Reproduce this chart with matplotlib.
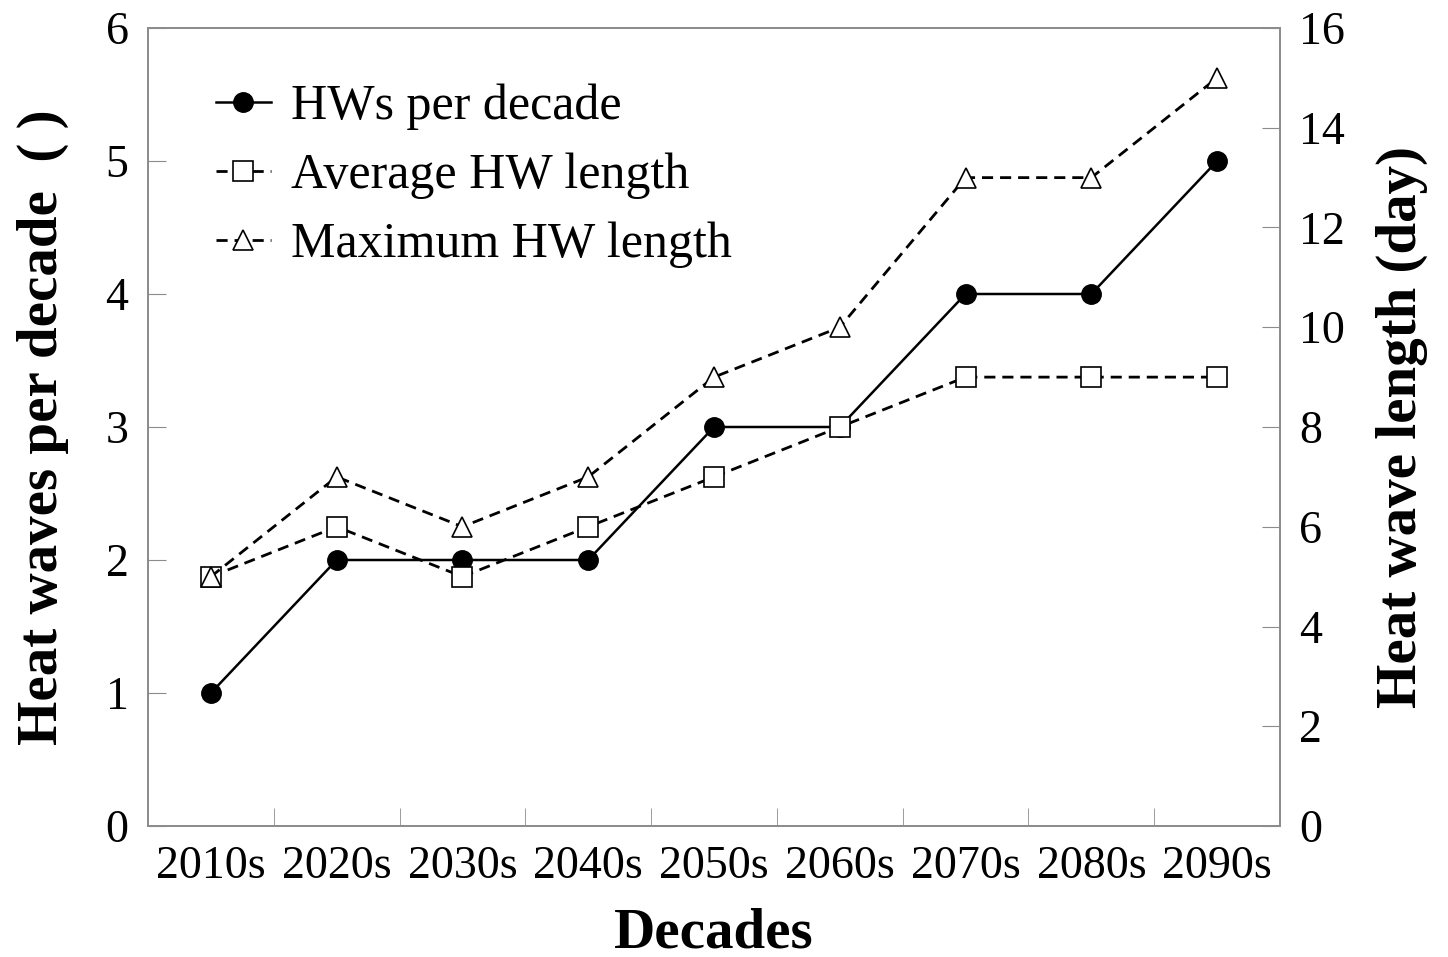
import matplotlib; matplotlib.use("Agg")
import matplotlib.pyplot as plt
import numpy as np

DECADES = ["2010s", "2020s", "2030s", "2040s", "2050s", "2060s", "2070s", "2080s", "2090s"]
HW_COUNT = [1, 2, 2, 2, 3, 3, 4, 4, 5]
AVG_LEN = [5, 6, 5, 6, 7, 8, 9, 9, 9]
MAX_LEN = [5, 7, 6, 7, 9, 10, 13, 13, 15]

plt.rcParams["font.family"] = ["Liberation Serif", "DejaVu Serif"]
GRAY = "#8c8c8c"

fig = plt.figure(figsize=(14.48, 9.57), dpi=100)
ax = fig.add_axes([148/1448, 1-826/957, (1280-148)/1448, (826-28)/957])
ax2 = ax.twinx()
x = np.arange(len(DECADES))

l1, = ax.plot(x, HW_COUNT, "-", color="black", lw=1.8, marker="o", ms=14,
              mfc="black", mec="black", label="HWs per decade")
l2, = ax2.plot(x, AVG_LEN, color="black", lw=2.0, ls=(0, (4, 2.5)), marker="s", ms=14,
               mfc="white", mec="black", mew=1.2, label="Average HW length")
l3, = ax2.plot(x, MAX_LEN, color="black", lw=2.0, ls=(0, (4, 2.5)), marker="^", ms=15,
               mfc="white", mec="black", mew=1.2, label="Maximum HW length")

ax.set_xlim(-0.5, len(DECADES)-0.5)
ax.set_ylim(0, 6); ax2.set_ylim(0, 16)
ax.set_yticks(range(0, 7)); ax2.set_yticks(range(0, 17, 2))
ax.set_xticks(x); ax.set_xticklabels(DECADES)
ax.set_xticks(np.arange(0.5, len(DECADES)-0.5), minor=True)
ax.tick_params(axis="x", which="major", length=0, labelsize=33, pad=14)
ax.tick_params(axis="x", which="minor", direction="in", length=13, color=GRAY)
ax.tick_params(axis="y", direction="in", length=13, color=GRAY, labelsize=33, pad=14)
ax2.tick_params(axis="y", direction="in", length=13, color=GRAY, labelsize=33, pad=14)
for a in (ax, ax2):
    for s in a.spines.values():
        s.set_color(GRAY); s.set_linewidth(1.3)

ax.set_xlabel("Decades", fontsize=41, fontweight="bold", labelpad=14)
ax.set_ylabel("Heat waves per decade  ( )", fontsize=41, fontweight="bold", labelpad=26)
ax2.set_ylabel("Heat wave length (day)", fontsize=41, fontweight="bold", labelpad=22)

ax2.legend(handles=[l1, l2, l3], loc="upper left", bbox_to_anchor=(0.042, 0.955),
           frameon=False, fontsize=36, handlelength=1.1, handletextpad=0.4,
           labelspacing=0.45, borderaxespad=0)

fig.savefig("out.png", dpi=100, facecolor="white")
